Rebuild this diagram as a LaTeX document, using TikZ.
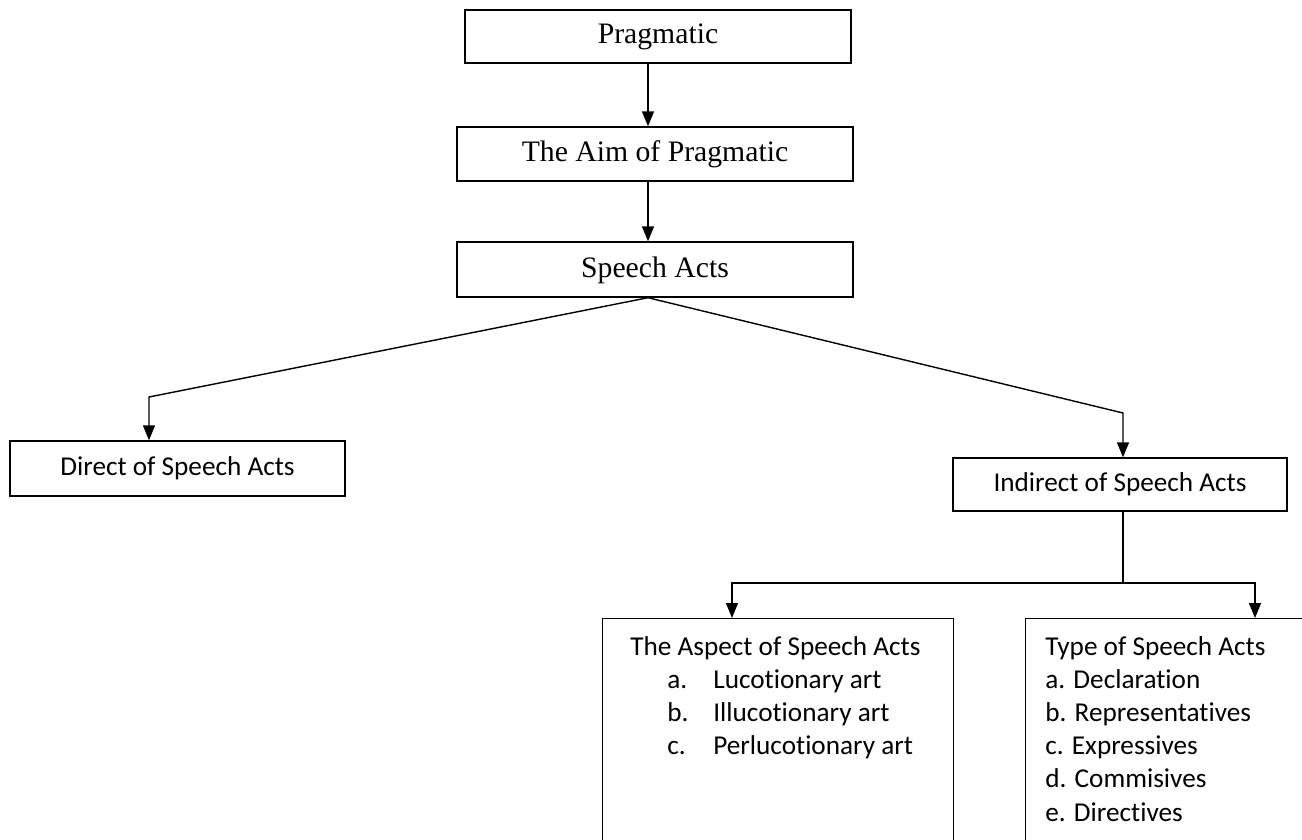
\documentclass[tikz,border=0pt]{standalone}
\usepackage{fontspec}
\setmainfont[Ligatures={NoCommon}]{Carlito}
\newfontfamily\timesfont{Liberation Serif}
\usetikzlibrary{arrows.meta}

\tikzset{
  topbox/.style={draw, line width=0.8pt, inner sep=0pt, text depth=0.1cm, font=\timesfont\fontsize{16.9}{20}\selectfont},
  subbox/.style={draw, line width=0.8pt, inner sep=0pt, font=\fontsize{15.5}{18.9}\selectfont},
  listtext/.style={anchor=base west, inner sep=0pt, font=\fontsize{15.5}{18.9}\selectfont},
  arr/.style={line width=0.8pt, -{Triangle[width=0.24cm,length=0.3cm]}},
}

\begin{document}
\begin{tikzpicture}[x=0.02cm, y=-0.02cm]
\useasboundingbox (0,0) rectangle (1302,839);
\clip (0,0) rectangle (1302,839);

% upper chain
\node[topbox, minimum width=7.72cm, minimum height=1.06cm] (prag) at (658,36.5) {Pragmatic};
\node[topbox, minimum width=7.92cm, minimum height=1.08cm] (aim) at (655,154) {The Aim of Pragmatic};
\node[topbox, minimum width=7.92cm, minimum height=1.1cm] (speech) at (655,269.5) {Speech Acts};

% two kinds
\node[subbox, minimum width=6.7cm, minimum height=1.1cm] (direct) at (177.5,468.5) {Direct of Speech Acts};
\node[subbox, minimum width=6.68cm, minimum height=1.06cm] (indirect) at (1120,484.5) {Indirect of Speech Acts};

% lower boxes, cut by the page edge
\node[subbox, anchor=north west, minimum width=7.02cm, minimum height=5.8cm] (aspect) at (602,618) {};
\node[subbox, anchor=north west, minimum width=6.5cm, minimum height=5.8cm] (typebox) at (1025,618) {};
\node[listtext] (aspecttxt) at (630,655) {\begin{tabular}[t]{@{}l@{}}
  The Aspect of Speech Acts\\
  \hspace*{0.74cm}\makebox[0.92cm][l]{a.}Lucotionary art\\
  \hspace*{0.74cm}\makebox[0.92cm][l]{b.}Illucotionary art\\
  \hspace*{0.74cm}\makebox[0.92cm][l]{c.}Perlucotionary art
\end{tabular}};
\node[listtext] (typetxt) at (1045,655) {\begin{tabular}[t]{@{}l@{}}
  Type of Speech Acts\\
  a. Declaration\\
  b. Representatives\\
  c. Expressives\\
  d. Commisives\\
  e. Directives
\end{tabular}};

% connectors
\coordinate (spine) at (648,0);
\coordinate (lbend) at (149,397);
\coordinate (rbend) at (1123,413);
\coordinate (fork) at (1123,583);
\coordinate (lfork) at (732,583);
\coordinate (rfork) at (1255,583);

\draw[arr] (prag.south -| spine) -- (aim.north -| spine);
\draw[arr] (aim.south -| spine) -- (speech.north -| spine);
\draw[arr] (speech.south -| spine) -- (lbend) -- (direct.north -| lbend);
\draw[arr] (speech.south -| spine) -- (rbend) -- (indirect.north -| rbend);
\draw[line width=0.8pt] (indirect.south -| fork) -- (fork);
\draw[arr] (fork) -- (lfork) -- (aspect.north -| lfork);
\draw[arr] (fork) -- (rfork) -- (typebox.north -| rfork);
\end{tikzpicture}
\end{document}
